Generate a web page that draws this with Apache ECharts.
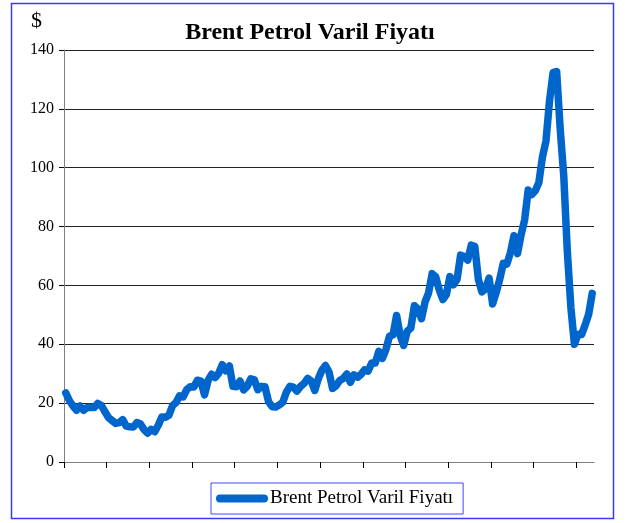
<!DOCTYPE html>
<html>
<head>
<meta charset="utf-8">
<script src="https://cdn.jsdelivr.net/npm/echarts@6/dist/echarts.min.js"></script>
<style>
  html, body { margin: 0; padding: 0; background: #fff; }
  #chart { width: 625px; height: 523px; }
</style>
</head>
<body>
<div id="chart"></div>
<script>
// aylar: Ocak 1997 - Mayis 2009
var years = [1997, 1998, 1999, 2000, 2001, 2002, 2003, 2004, 2005, 2006, 2007, 2008, 2009];

var p1997 = [23.5, 20.9, 19.1, 17.6, 19.0, 17.6, 18.5, 18.6, 18.5, 19.9, 19.2, 17.1];
var p1998 = [15.1, 14.1, 13.1, 13.4, 14.4, 12.2, 12.0, 11.9, 13.4, 12.9, 11.0, 9.8];
var p1999 = [11.1, 10.3, 12.5, 15.3, 15.2, 15.9, 19.1, 20.2, 22.5, 22.1, 24.6, 25.6];
var p2000 = [25.5, 27.8, 27.5, 22.8, 27.7, 29.8, 28.7, 30.2, 33.1, 31.0, 32.6, 25.7];
var p2001 = [25.6, 27.5, 24.5, 25.7, 28.3, 27.9, 24.6, 25.7, 25.6, 20.5, 18.8, 18.7];
var p2002 = [19.4, 20.3, 23.7, 25.7, 25.4, 24.1, 25.7, 26.7, 28.4, 27.5, 24.3, 28.3];
var p2003 = [31.2, 32.8, 30.6, 25.0, 25.9, 27.7, 28.4, 29.9, 27.1, 29.6, 28.8, 29.8];
var p2004 = [31.3, 30.9, 33.6, 33.6, 37.6, 35.2, 38.2, 42.7, 43.2, 49.8, 43.1, 39.6];
var p2005 = [44.5, 45.5, 53.1, 51.9, 48.7, 54.4, 57.5, 64.0, 62.9, 58.5, 55.2, 56.9];
var p2006 = [63.0, 60.2, 62.1, 70.3, 69.8, 68.6, 73.7, 73.2, 62.0, 57.8, 58.8, 62.5];
var p2007 = [53.7, 57.6, 62.1, 67.5, 67.2, 71.1, 76.9, 70.8, 77.2, 82.3, 92.4, 90.9];
var p2008 = [92.2, 95.0, 103.6, 109.1, 122.8, 132.3, 132.7, 113.2, 97.2, 71.6, 52.5, 40.0];
var p2009 = [43.4, 43.3, 46.5, 50.2, 57.3];

var yTicks = [0, 20, 40, 60, 80, 100, 120, 140];
var seriesName = 'Brent Petrol Varil Fiyatı';

var prices = [].concat(p1997, p1998, p1999, p2000, p2001, p2002, p2003,
  p2004, p2005, p2006, p2007, p2008, p2009);

var months = [];
years.forEach(function(y) {
  for (var m = 1; m <= 12; m++) {
    if (months.length < prices.length) months.push(y + '-' + (m < 10 ? '0' + m : m));
  }
});

// yillik tik sayisi (ekseni asan son tik cizilmesin diye ayri eksen)
var fullYears = Math.floor(prices.length / 12);

var serif = '"Liberation Serif", "DejaVu Serif", serif';
var blue = '#0066cc';
var plotLeft = 64, plotRight = 594;
var monthW = (plotRight - plotLeft) / prices.length;

var chart = echarts.init(document.getElementById('chart'));
chart.setOption({
  animation: false,
  backgroundColor: '#fff',
  title: {
    text: seriesName,
    left: 305,
    top: 16,
    textAlign: 'center',
    textStyle: { fontFamily: serif, fontWeight: 'bold', fontSize: 24, color: '#000' }
  },
  graphic: [
    // dis cerceve
    {
      type: 'rect',
      shape: { x: 11.5, y: 3.5, width: 602, height: 515 },
      style: { fill: 'none', stroke: '#3a3aff', lineWidth: 1.5 },
      z: 0
    },
    {
      type: 'text',
      left: 31,
      top: 10,
      style: { text: '$', font: '22px ' + serif, fill: '#000' }
    }
  ],
  legend: {
    left: 211,
    top: 483,
    padding: [6, 10, 6, 5],
    borderColor: '#4444ff',
    borderWidth: 1,
    itemWidth: 52,
    itemHeight: 8,
    icon: 'path://M4,0 H48 A4,4 0 0 1 48,8 H4 A4,4 0 0 1 4,0 Z',
    textStyle: { fontFamily: serif, fontSize: 19, color: '#000', lineHeight: 19, padding: [0, 0, 0, -3] },
    data: [seriesName]
  },
  grid: [
    { left: plotLeft, right: 625 - plotRight, top: 50, bottom: 61 },
    { left: plotLeft, width: fullYears * 12 * monthW, top: 50, bottom: 61 }
  ],
  xAxis: [{
    type: 'category',
    data: months,
    boundaryGap: true,
    axisLine: { lineStyle: { color: '#808080', width: 1 } },
    axisTick: { show: false },
    axisLabel: { show: false },
    splitLine: { show: false }
  }, {
    // yil tikleri
    type: 'value',
    gridIndex: 1,
    min: 0,
    max: fullYears * 12,
    interval: 12,
    axisLine: { show: false },
    axisTick: { show: true, length: 6, lineStyle: { color: '#000' } },
    axisLabel: { show: false },
    splitLine: { show: false }
  }],
  yAxis: [{
    type: 'value',
    min: yTicks[0],
    max: yTicks[yTicks.length - 1],
    interval: 20,
    axisLine: { show: true, lineStyle: { color: '#808080' } },
    axisTick: { show: true, length: 5, lineStyle: { color: '#000' } },
    axisLabel: { fontFamily: serif, fontSize: 16, color: '#000', margin: 10 },
    splitLine: { lineStyle: { color: '#222', width: 1 } }
  }, {
    type: 'value',
    gridIndex: 1,
    min: 0,
    max: 1,
    show: false
  }],
  series: [{
    name: seriesName,
    type: 'line',
    data: prices,
    showSymbol: false,
    symbol: 'none',
    color: blue,
    lineStyle: { color: blue, width: 7.5, cap: 'round', join: 'round' }
  }]
});
</script>
</body>
</html>
